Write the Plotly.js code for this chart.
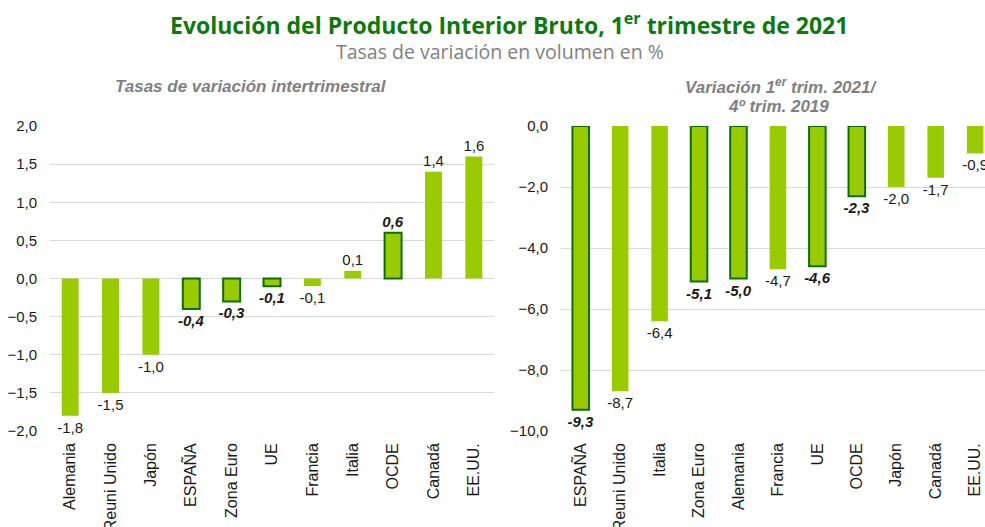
<!DOCTYPE html>
<html>
<head>
<meta charset="utf-8">
<script src="https://cdn.plot.ly/plotly-3.0.1.min.js"></script>
<style>html,body{margin:0;padding:0;background:#fff;}#chart{width:985px;height:527px;}</style>
</head>
<body>
<div id="chart"></div>
<script>
// Left panel: tasas de variación intertrimestral
const catsLeft = ["Alemania", "Reuni Unido", "Japón", "ESPAÑA", "Zona Euro", "UE", "Francia", "Italia", "OCDE", "Canadá", "EE.UU."];
const valsLeft = [-1.8, -1.5, -1.0, -0.4, -0.3, -0.1, -0.1, 0.1, 0.6, 1.4, 1.6];
const highlightLeft = [false, false, false, true, true, true, false, false, true, false, false];

// Right panel: variación 1er trim. 2021 / 4º trim. 2019
const catsRight = ["ESPAÑA", "Reuni Unido", "Italia", "Zona Euro", "Alemania", "Francia", "UE", "OCDE", "Japón", "Canadá", "EE.UU."];
const valsRight = [-9.3, -8.7, -6.4, -5.1, -5.0, -4.7, -4.6, -2.3, -2.0, -1.7, -0.9];
const highlightRight = [true, false, false, true, true, false, true, true, false, false, false];

const yTicksLeft = [-2, -1.5, -1, -0.5, 0, 0.5, 1, 1.5, 2];
const yTicksRight = [-10, -8, -6, -4, -2, 0];

const FILL = "#99cc00";
const EDGE = "#0a6e0a";
const W = 985, H = 527;

function fmt(v) { return v.toFixed(1).replace(".", ","); }
function labels(vals, hl) {
  return vals.map((v, i) => hl[i] ? "<b><i>" + fmt(v) + "</i></b>" : fmt(v));
}

function barTrace(cats, vals, hl, xa, ya) {
  return {
    type: "bar",
    x: cats, y: vals,
    xaxis: xa, yaxis: ya,
    width: 0.42,
    marker: {
      color: FILL,
      line: { color: hl.map(h => h ? EDGE : FILL), width: hl.map(h => h ? 2 : 0) }
    },
    text: labels(vals, hl),
    textposition: "outside",
    textangle: 0,
    constraintext: "none",
    cliponaxis: false,
    textfont: { family: "Liberation Sans, Arial, sans-serif", size: 15, color: "#1a1a1a" },
    hoverinfo: "x+y",
    showlegend: false
  };
}

const px = v => v / W;
const py = v => 1 - v / H;

const axisFont = { family: "Liberation Sans, Arial, sans-serif", size: 15, color: "#1a1a1a" };
const catFont = { family: "Liberation Sans, Arial, sans-serif", size: 16, color: "#1a1a1a" };
const panelFont = { family: "Liberation Sans, Arial, sans-serif", size: 17, color: "#7f7f7f" };

const layout = {
  width: W, height: H,
  margin: { l: 0, r: 0, t: 0, b: 0 },
  paper_bgcolor: "#ffffff",
  plot_bgcolor: "#ffffff",
  separators: ",.",
  barmode: "group",
  showlegend: false,
  xaxis: {
    domain: [px(50), px(494)],
    range: [-0.5, 10.5],
    type: "category",
    tickangle: -90,
    tickfont: catFont,
    showgrid: false, zeroline: false, showline: false,
    ticks: "", ticklabelstandoff: 8,
    anchor: "y", fixedrange: true
  },
  yaxis: {
    domain: [py(431), py(126)],
    range: [-2, 2],
    tickvals: yTicksLeft,
    tickformat: ".1f",
    tickfont: axisFont,
    showgrid: true, gridcolor: "#d9d9d9", gridwidth: 1,
    zeroline: false, showline: false, ticks: "",
    ticklabelstandoff: 12,
    anchor: "x", fixedrange: true
  },
  xaxis2: {
    domain: [px(561), 1],
    range: [-0.5, 10.25],
    type: "category",
    tickangle: -90,
    tickfont: catFont,
    showgrid: false, zeroline: false, showline: false,
    ticks: "", ticklabelstandoff: 8,
    anchor: "y2", fixedrange: true
  },
  yaxis2: {
    domain: [py(431), py(126)],
    range: [-10, 0],
    tickvals: yTicksRight,
    tickformat: ".1f",
    tickfont: axisFont,
    showgrid: true, gridcolor: "#d9d9d9", gridwidth: 1,
    zeroline: false, showline: false, ticks: "",
    ticklabelstandoff: 12,
    anchor: "x2", fixedrange: true
  },
  annotations: [
    {
      text: "<b>Evolución del Producto Interior Bruto, 1<sup>er</sup> trimestre de 2021</b>",
      xref: "paper", yref: "paper", x: px(509), y: py(24),
      xanchor: "center", yanchor: "middle", showarrow: false,
      font: { family: "Open Sans, sans-serif", size: 23, color: "#0b7a0b" }
    },
    {
      text: "Tasas de variación en volumen en %",
      xref: "paper", yref: "paper", x: px(500), y: py(52),
      xanchor: "center", yanchor: "middle", showarrow: false,
      font: { family: "Open Sans, sans-serif", size: 19.5, color: "#7f7f7f" }
    },
    {
      text: "<b><i>Tasas de variación intertrimestral</i></b>",
      xref: "paper", yref: "paper", x: px(251), y: py(87),
      xanchor: "center", yanchor: "middle", showarrow: false,
      font: panelFont
    },
    {
      text: "<b><i>Variación 1<sup>er</sup> trim. 2021/</i></b>",
      xref: "paper", yref: "paper", x: px(781), y: py(86),
      xanchor: "center", yanchor: "middle", showarrow: false,
      font: panelFont
    },
    {
      text: "<b><i>4º trim. 2019</i></b>",
      xref: "paper", yref: "paper", x: px(778), y: py(106),
      xanchor: "center", yanchor: "middle", showarrow: false,
      font: panelFont
    }
  ]
};

Plotly.newPlot("chart", [
  barTrace(catsLeft, valsLeft, highlightLeft, "x", "y"),
  barTrace(catsRight, valsRight, highlightRight, "x2", "y2")
], layout, { staticPlot: true, displayModeBar: false });
</script>
</body>
</html>
